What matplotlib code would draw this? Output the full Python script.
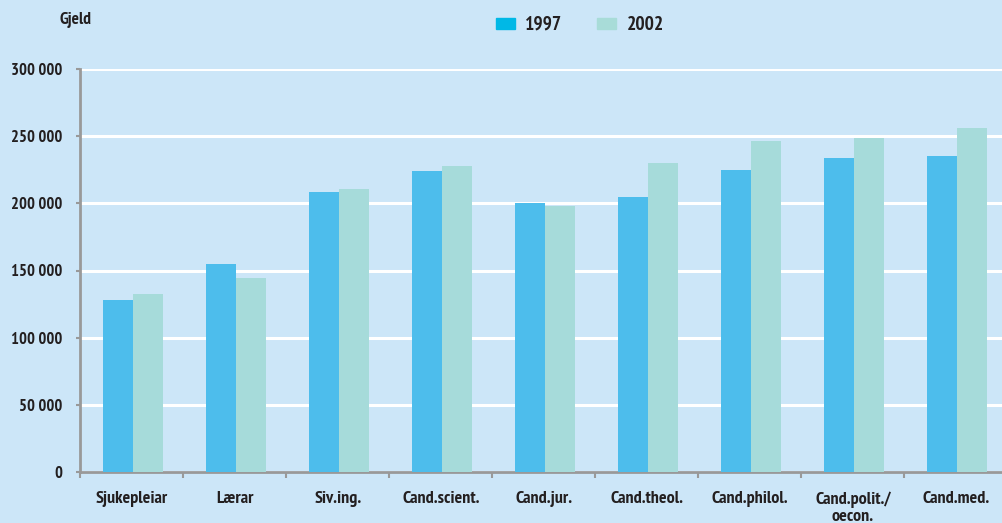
import matplotlib
matplotlib.use("Agg")
import matplotlib.pyplot as plt
import matplotlib.patches as mpatches
import numpy as np

# ── Data ─────────────────────────────────────────────────────────────────────
categories = ["Sjukepleiar", "Lærar", "Siv.ing.", "Cand.scient.", "Cand.jur.",
              "Cand.theol.", "Cand.philol.", "Cand.polit./\noecon.", "Cand.med."]
debt_1997 = [128000, 155000, 208500, 224000, 200500, 204500, 225000, 233500, 235500]
debt_2002 = [132500, 144500, 210500, 228000, 198000, 230000, 246500, 249000, 256000]
yticks = [0, 50000, 100000, 150000, 200000, 250000, 300000]
ytick_labels = ["0", "50 000", "100 000", "150 000", "200 000", "250 000", "300 000"]

BG = "#cce6f8"
C97 = "#4dbdec"
C02 = "#a6dbda"
AXIS = "#999999"
TXT = "#231f20"
FONT = ["PT Sans Narrow", "DejaVu Sans"]

plt.rcParams["font.family"] = FONT
plt.rcParams["font.weight"] = "bold"

W, H = 1003, 523
fig = plt.figure(figsize=(W / 100, H / 100), dpi=100, facecolor=BG)
# axes: left spine at x=80, zero line at y=472, 300 000 at y=69, 103 px per group
ax = fig.add_axes([80.5 / W, (H - 472) / H, 9 * 103 / W, 403 / H])
ax.set_facecolor(BG)

x = np.arange(len(categories))
bw = 0.295
ax.bar(x - bw / 2 + 0.01, debt_1997, bw, color=C97, zorder=3)
ax.bar(x + bw / 2 + 0.01, debt_2002, bw, color=C02, zorder=3)

ax.set_xlim(-0.5, len(categories) - 0.5)
ax.set_ylim(0, 300000)

ax.set_yticks(yticks)
ax.set_yticklabels(ytick_labels, fontsize=12, color=TXT, fontweight="bold")
ax.yaxis.grid(True, color="white", linewidth=2.2, zorder=1)
ax.set_axisbelow(True)

# x ticks sit between groups, labels at group centres
ax.set_xticks(np.arange(len(categories) + 1) - 0.5)
ax.set_xticklabels([])
ax.set_xticks(x, minor=True)
ax.set_xticklabels(categories, minor=True, fontsize=13, color=TXT,
                   fontweight="bold", va="top", linespacing=1.05)
ax.tick_params(axis="x", which="minor", length=0, pad=14)
ax.tick_params(axis="x", which="major", length=4, color=AXIS, width=1.5)
ax.tick_params(axis="y", length=3, color=AXIS, width=1.5, pad=10)

for side in ["top", "right"]:
    ax.spines[side].set_visible(False)
for side in ["left", "bottom"]:
    ax.spines[side].set_color(AXIS)
    ax.spines[side].set_linewidth(2)

fig.text(60 / W, 1 - 20 / H, "Gjeld", fontsize=12.5, color=TXT,
         fontweight="bold", ha="left", va="center")

handles = [mpatches.Patch(color="#00b8e6", label="1997"),
           mpatches.Patch(color="#a8dcd8", label="2002")]
leg = fig.legend(handles=handles, loc="center", bbox_to_anchor=(580 / W, 1 - 25 / H),
                 ncol=2, frameon=False, handlelength=0.95, handleheight=0.5,
                 columnspacing=1.8, handletextpad=0.55,
                 prop={"family": FONT, "weight": "bold", "size": 14})
for t in leg.get_texts():
    t.set_color(TXT)

fig.savefig("out.png", dpi=100, facecolor=BG)
